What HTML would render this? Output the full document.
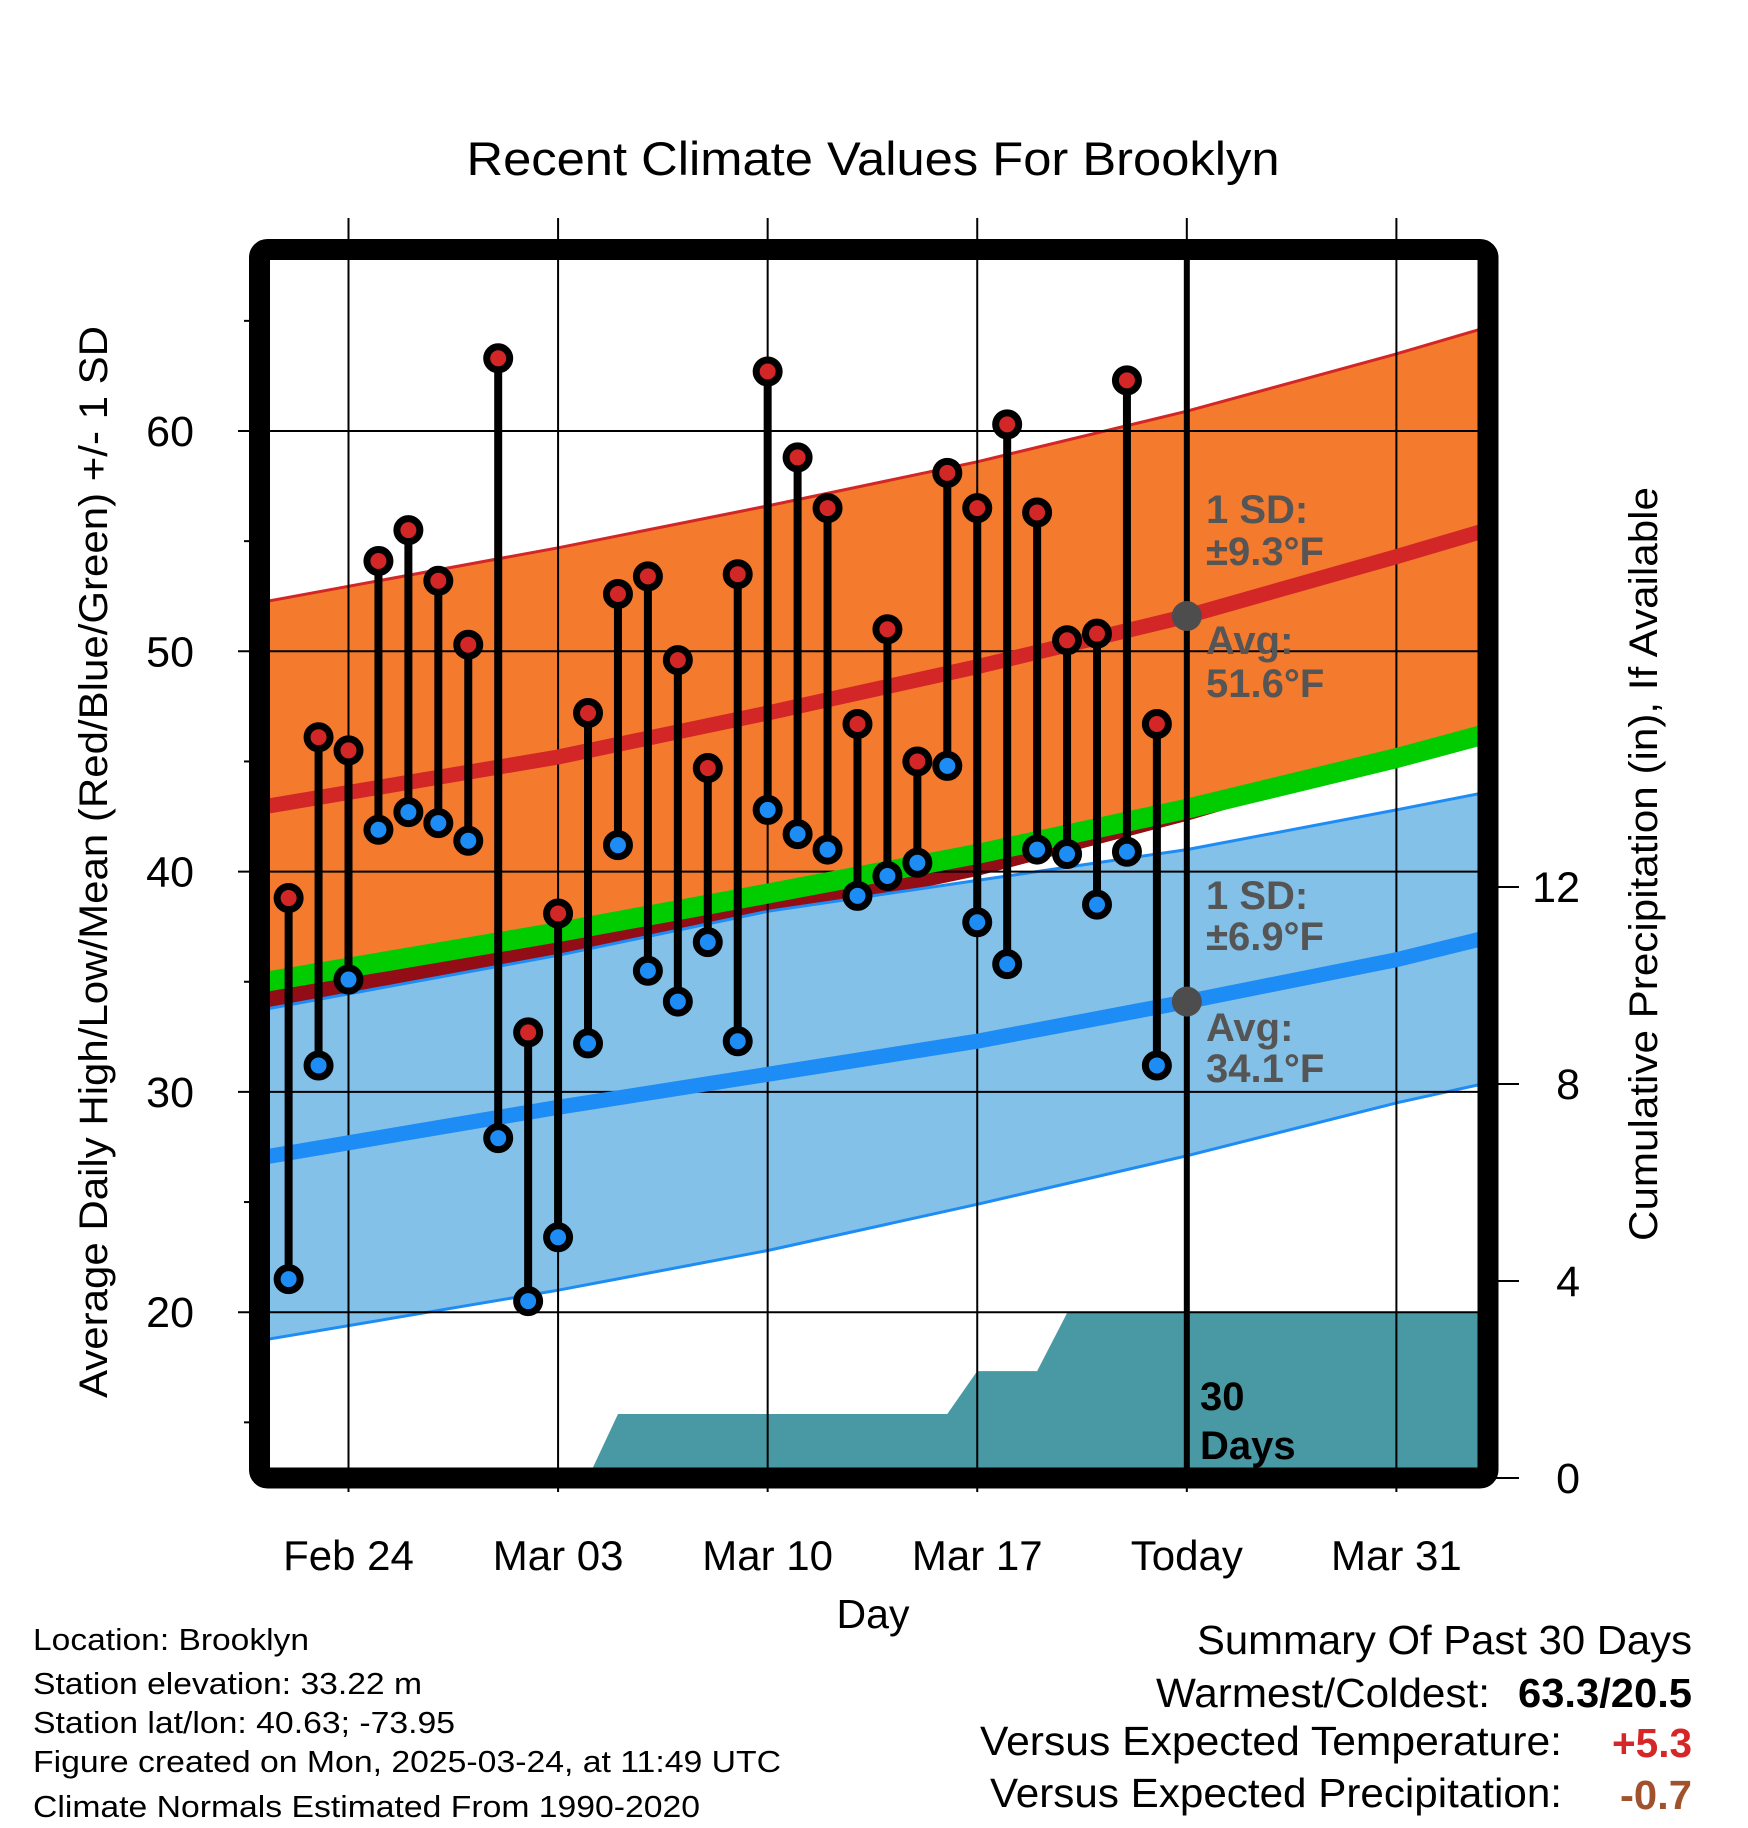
<!DOCTYPE html>
<html><head><meta charset="utf-8"><style>
html,body{margin:0;padding:0;background:#fff;}
svg{display:block;font-family:"Liberation Sans",sans-serif;}
</style></head><body>
<svg id="chart" width="1748" height="1828" viewBox="0 0 1748 1828" xmlns="http://www.w3.org/2000/svg">
<defs><clipPath id="plotClip"><rect x="270" y="260" width="1208" height="1208"/></clipPath></defs>
<g id="bands" clip-path="url(#plotClip)"></g>
<g id="axes"></g>
<g id="marks" clip-path="url(#plotClip)"></g>
<rect x="259.5" y="249.5" width="1228.5" height="1228.5" rx="8" fill="none" stroke="#000" stroke-width="21"/>
<g id="labels"></g>
</svg>
<script>
// Daily observations (days offset from Feb 24)
const obsDays = [-2,-1,0,1,2,3,4,5,6,7,8,9,10,11,12,13,14,15,16,17,18,19,20,21,22,23,24,25,26,27];
const highs = [38.8,46.1,45.5,54.1,55.5,53.2,50.3,63.3,32.7,38.1,47.2,52.6,53.4,49.6,44.7,53.5,62.7,58.8,56.5,46.7,51.0,45.0,58.1,56.5,60.3,56.3,50.5,50.8,62.3,46.7];
const lows = [21.5,31.2,35.1,41.9,42.7,42.2,41.4,27.9,20.5,23.4,32.2,41.2,35.5,34.1,36.8,32.3,42.8,41.7,41.0,38.9,39.8,40.4,44.8,37.7,35.8,41.0,40.8,38.5,40.9,31.2];
// Climate normals
const nDays = [-3,7,14,21,28,35,38];
const hiMean = [42.9,45.2,47.2,49.3,51.6,54.3,55.5];
const hiUpper = [52.2,54.7,56.6,58.6,60.9,63.5,64.7];
const hiLower = [33.5,35.6,37.8,39.8,42.3,45.1,46.2];
const loMean = [27.0,29.3,30.8,32.3,34.1,36.0,37.0];
const loUpper = [33.7,36.2,38.2,39.6,41.0,42.8,43.6];
const loLower = [18.7,21.0,22.8,24.9,27.1,29.5,30.4];
// Cumulative precipitation
const pDays = [-2,-1,0,1,2,3,4,5,6,7,8,9,10,11,12,13,14,15,16,17,18,19,20,21,22,23,24,25,26,27,38];
const pCum = [0,0,0,0,0,0,0,0,0,0,0,1.3,1.3,1.3,1.3,1.3,1.3,1.3,1.3,1.3,1.3,1.3,1.3,2.17,2.17,2.17,3.35,3.35,3.35,3.35,3.35];
// Axis ticks
const xTickDays = [0,7,14,21,28,35];
const xTickLabels = ["Feb 24","Mar 03","Mar 10","Mar 17","Today","Mar 31"];
const yTicks = [20,30,40,50,60];
const yMinor = [15,25,35,45,55,65];
const pTicks = [0,4,8,12];
const todayDay = 28;
const todayHi = 51.6, todayLo = 34.1;

const NS="http://www.w3.org/2000/svg";
const X = d => 348.5 + d*29.94;
const Y = v => 431 + (60 - v)*22.03;
const YP = p => 1478 - p*49.25;
function mk(tag, attrs, parent){const e=document.createElementNS(NS,tag);for(const k in attrs)e.setAttribute(k,attrs[k]);parent.appendChild(e);return e;}
function linePts(days, vals){return days.map((d,i)=>X(d).toFixed(1)+","+Y(vals[i]).toFixed(1)).join(" ");}
function bandPts(days, top, bot){
  const a=days.map((d,i)=>X(d).toFixed(1)+","+Y(top[i]).toFixed(1));
  const b=days.map((d,i)=>X(d).toFixed(1)+","+Y(bot[i]).toFixed(1)).reverse();
  return a.concat(b).join(" ");
}
const bands=document.getElementById('bands');
const axes=document.getElementById('axes');
const marks=document.getElementById('marks');
const labels=document.getElementById('labels');
const midMean = hiMean.map((v,i)=>(v+loMean[i])/2);

let e;
e=mk('polygon',{points:bandPts(nDays,hiUpper,hiLower),fill:'#f47a2e'},bands);


e=mk('polygon',{points:bandPts(nDays,midMean,hiLower),fill:'#920d15'},bands);


e=mk('polygon',{points:bandPts(nDays,loUpper,loLower),fill:'#84c1e8'},bands);


e=mk('polyline',{points:linePts(nDays,hiUpper),fill:'none',stroke:'#d32626','stroke-width':3},bands);


e=mk('polyline',{points:linePts(nDays,loUpper),fill:'none',stroke:'#1e8cf5','stroke-width':3},bands);


e=mk('polyline',{points:linePts(nDays,loLower),fill:'none',stroke:'#1e8cf5','stroke-width':3},bands);


// precip area
let pp = pDays.map((d,i)=>X(d).toFixed(1)+","+YP(pCum[i]).toFixed(1));
pp.push(X(38)+","+YP(0)); pp.unshift(X(-2)+","+YP(0));
e=mk('polygon',{points:pp.join(" "),fill:'#4899a3'},bands);


// gridlines
yTicks.forEach(v=>{
  e=mk('line',{x1:238,x2:1478,y1:Y(v),y2:Y(v),stroke:'#000','stroke-width':2},axes);
  
  
  e=mk('text',{x:194,y:Y(v)+15,'text-anchor':'end','font-size':43},labels);
  e.textContent=v;
  
  
});
yMinor.forEach(v=>{
  e=mk('line',{x1:244,x2:252,y1:Y(v),y2:Y(v),stroke:'#000','stroke-width':2},axes);
  
  
});
xTickDays.forEach((d,i)=>{
  e=mk('line',{x1:X(d),x2:X(d),y1:218,y2:1492,stroke:'#000','stroke-width':2},axes);
  
  
  e=mk('text',{x:X(d),y:1570,'text-anchor':'middle','font-size':42},labels);
  e.textContent=xTickLabels[i];
  
  
});
pTicks.forEach(p=>{
  e=mk('line',{x1:1488,x2:1519,y1:YP(p),y2:YP(p),stroke:'#000','stroke-width':2},axes);
  
  
  e=mk('text',{x:1580,y:YP(p)+15,'text-anchor':'end','font-size':43},labels);
  e.textContent=p;
  
  
});
// mean lines
e=mk('polyline',{points:linePts(nDays,midMean),fill:'none',stroke:'#00cc00','stroke-width':20},marks);


e=mk('polyline',{points:linePts(nDays,hiMean),fill:'none',stroke:'#d32626','stroke-width':15},marks);


e=mk('polyline',{points:linePts(nDays,loMean),fill:'none',stroke:'#1e8cf5','stroke-width':15},marks);


// today line
e=mk('line',{x1:X(todayDay),x2:X(todayDay),y1:255,y2:1470,stroke:'#000','stroke-width':6},marks);


e=mk('circle',{cx:X(todayDay),cy:Y(todayHi),r:15,fill:'#4d4d4d'},marks);


e=mk('circle',{cx:X(todayDay),cy:Y(todayLo),r:15,fill:'#4d4d4d'},marks);


// daily stems + markers
obsDays.forEach((d,i)=>{
  e=mk('line',{x1:X(d),x2:X(d),y1:Y(highs[i]),y2:Y(lows[i]),stroke:'#000','stroke-width':8},marks);
  
  
  e=mk('circle',{cx:X(d),cy:Y(highs[i]),r:11.5,fill:'#d32626',stroke:'#000','stroke-width':7},marks);
  
  
  e=mk('circle',{cx:X(d),cy:Y(lows[i]),r:11.5,fill:'#1e8cf5',stroke:'#000','stroke-width':7},marks);
  
  
});
</script>
<svg style="position:absolute;left:0;top:0" width="1748" height="1828" viewBox="0 0 1748 1828" xmlns="http://www.w3.org/2000/svg" font-family="Liberation Sans, sans-serif">
<text x="873" y="175" text-anchor="middle" font-size="47" textLength="813" lengthAdjust="spacingAndGlyphs">Recent Climate Values For Brooklyn</text>
<text x="873" y="1628" text-anchor="middle" font-size="41">Day</text>
<text transform="translate(107,862) rotate(-90)" text-anchor="middle" font-size="40" textLength="1072" lengthAdjust="spacingAndGlyphs">Average Daily High/Low/Mean (Red/Blue/Green) +/- 1 SD</text>
<text transform="translate(1657,864) rotate(-90)" text-anchor="middle" font-size="40" textLength="754" lengthAdjust="spacingAndGlyphs">Cumulative Precipitation (in), If Available</text>
<g font-weight="bold" font-size="40" fill="#555">
<text x="1206" y="523">1 SD:</text>
<text x="1206" y="565">±9.3°F</text>
<text x="1206" y="654">Avg:</text>
<text x="1206" y="697">51.6°F</text>
<text x="1206" y="909">1 SD:</text>
<text x="1206" y="950">±6.9°F</text>
<text x="1206" y="1041">Avg:</text>
<text x="1206" y="1082">34.1°F</text>
</g>
<g font-weight="bold" font-size="40" fill="#000">
<text x="1200" y="1410">30</text>
<text x="1200" y="1459">Days</text>
</g>
<g font-size="31">
<text x="33" y="1650" textLength="276" lengthAdjust="spacingAndGlyphs">Location: Brooklyn</text>
<text x="33" y="1694" textLength="389" lengthAdjust="spacingAndGlyphs">Station elevation: 33.22 m</text>
<text x="33" y="1733" textLength="422" lengthAdjust="spacingAndGlyphs">Station lat/lon: 40.63; -73.95</text>
<text x="33" y="1772" textLength="748" lengthAdjust="spacingAndGlyphs">Figure created on Mon, 2025-03-24, at 11:49 UTC</text>
<text x="33" y="1817" textLength="667" lengthAdjust="spacingAndGlyphs">Climate Normals Estimated From 1990-2020</text>
</g>
<g font-size="41">
<text x="1197" y="1654" textLength="495" lengthAdjust="spacingAndGlyphs">Summary Of Past 30 Days</text>
<text x="1156" y="1707" textLength="334" lengthAdjust="spacingAndGlyphs">Warmest/Coldest:</text>
<text x="1518" y="1707" font-weight="bold" textLength="174" lengthAdjust="spacingAndGlyphs">63.3/20.5</text>
<text x="980" y="1755" textLength="582" lengthAdjust="spacingAndGlyphs">Versus Expected Temperature:</text>
<text x="1612" y="1757" font-weight="bold" fill="#d62728" textLength="80" lengthAdjust="spacingAndGlyphs">+5.3</text>
<text x="990" y="1807" textLength="572" lengthAdjust="spacingAndGlyphs">Versus Expected Precipitation:</text>
<text x="1620" y="1809" font-weight="bold" fill="#a0522d" textLength="72" lengthAdjust="spacingAndGlyphs">-0.7</text>
</g>
</svg>
</body></html>
